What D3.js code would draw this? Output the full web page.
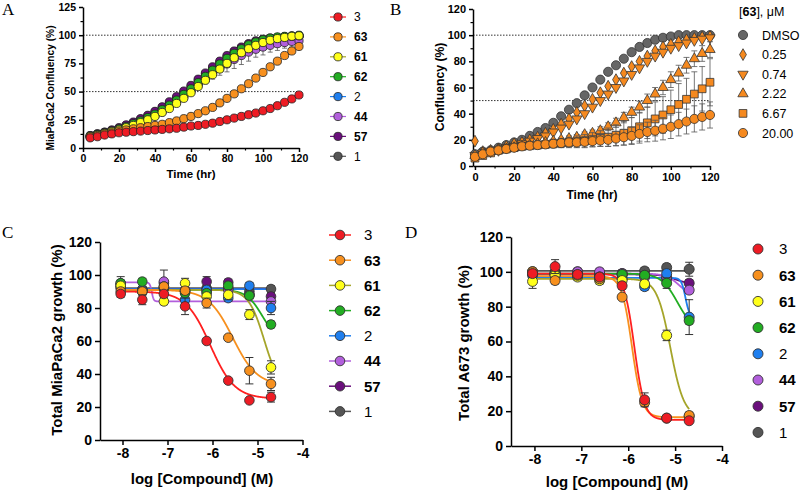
<!DOCTYPE html>
<html><head><meta charset="utf-8">
<script src="https://cdn.jsdelivr.net/npm/d3@7"></script>
<style>body{margin:0;background:#fff} text{font-family:"Liberation Sans",Arial,sans-serif}</style>
</head><body><svg id="c" width="800" height="496"></svg>
<script>
// ---------- Panel A data ----------
const aTime = [4,8,12,16,20,24,28,32,36,40,44,48,52,56,60,64,68,72,76,80,84,88,92,96,100,104,108,112,116,120];
const a3  = [9,10,11.5,12.5,13.5,14,14.5,15,15.5,16,16.5,17,17.5,18.5,19.5,20,21,22,23.5,25,26.5,28,29.5,31,33,35,37.5,40.5,43.5,47];
const a63 = [10,11,12.5,13.5,15,16,17,18,19,20,21,22.5,24,26,28,30.5,33,36,40,44,48,52.5,57,62,67,72,77,82,86,90];
const a61 = [10,11.5,13,14.5,16,18,20,22.5,25,28,31.5,35,39.5,44,49,54.5,60,65,70,75,80,84.5,88,91,93.5,95.5,97,98,99,99.5];
const a62 = [10.5,12,13.5,15,17,19,21.5,24,27,30,34,38,42.5,47.5,52.5,58,63.5,69,74.5,79.5,84,88,91.5,94,96,97.5,98.5,99,99.5,100];
const a2  = [10,11.5,13,14.5,16,18,20.5,23,25.5,28.5,32,36,40.5,45,50,55.5,61,66.5,71.5,76.5,81,85,88.5,91.5,94,96,97.5,98.5,99,99.5];
const a44 = [10,11.5,13,15,16.5,18.5,21,23.5,26.5,29.5,33,37,41,46,51,56,61,66,70.5,74.5,78.5,82,85,87.5,89.5,91,92.5,93.5,94.5,95];
const a57 = [11,12.5,14,16,18,20.5,23,26,29,32.5,36.5,41,45.5,50.5,55.5,61,66.5,72,77,82,86,89.5,92.5,95,96.5,97.5,98,98.5,99,99];
const a1  = [11,12.5,14,15.5,17.5,20,22.5,25.5,28.5,32,36,40,44.5,49.5,54.5,60,65.5,71,76,81,85.5,89,92,94.5,96,97,98,98.5,99,99];
const a44err = [0.5,0.5,0.5,0.5,0.5,0.5,0.5,0.5,0.5,1,1,1,1,1.5,2,3,4,5,6,7,8,8,8,7,7,6,6,5,5,4];
const aTicksY = [0,25,50,75,100,125];
const aTicksX = [0,20,40,60,80,100,120];

// ---------- Panel B data ----------
const bTime = [0,4,8,12,16,20,24,28,32,36,40,44,48,52,56,60,64,68,72,76,80,84,88,92,96,100,104,108,112,116,120];
const bDMSO = [9,11,12,14,16,18,20,23,26,29,33,38,43,48,54,60,66,72,77,82,87,91,94,96.5,98,99,100,100,100,100,100];
const b025  = [19,11,12,13,15,17,18,20,22,25,28,32,36,41,46,51,56,61,66,71,76,80,84,88,91,93,95,96.5,97.5,98.5,99];
const b074  = [8,10,11,12,14,15,17,19,21,23,26,29,32,36,40,45,50,55,60,65,70,75,80,84,87,90,92,94,96,97,98];
const b222  = [8,10,11,12,13,14,15,16,17,18,19,20,21,22,24,25,27,30,33,37,41,45,50,55,60,66,71,77,82,86,89];
const b667  = [6,8,10,12,13,14,15,15.5,16,16.5,17,17.5,18,18.5,19,20,21,22,23.5,25,27,30,33,36,39,43,47,51,55,59,64];
const b20   = [7,9,11,12,13,14,15,15.5,16,16.5,17,17.5,18,18,18.5,19,19.5,20,21,22,23,24.5,26,27,28.5,30,32,34,36,37.5,39];
const b222err = [1,1,1,1,1,1,1,1,1,1,1.5,1.5,2,2,2,2.5,3,3,3.5,4,4,4.5,5,5,5.5,6,6,6,6,6,6];
const b667err = [2,2,2,2,2,2,2.5,2.5,3,3,3,3.5,4,4.5,5,5.5,6,7,8,9,10,11,12,13,14,15,16,16,17,17,18];
const b20err  = [2,2,2,2,2,2,2,2.5,2.5,3,3,3,3.5,3.5,4,4,4.5,5,5.5,6,6.5,7,7.5,8,8.5,9,9,9.5,10,10,10];
const bLabels = ["DMSO","0.25","0.74","2.22","6.67","20.00"];
const bTicksY = [0,20,40,60,80,100,120];
const bTicksX = [0,20,40,60,80,100,120];

// ---------- Panels C & D data ----------
const logConc = [-8.04,-7.56,-7.08,-6.61,-6.13,-5.65,-5.18,-4.70];
const cVals = {
  "3":  [88.5,85,88.5,81,60,36,24,26],
  "63": [90,90,93,90.5,83,62,42,34],
  "61": [93.5,90,84,95,87,88,76,44],
  "62": [95,96,92,89,89,93.5,87.5,70],
  "2":  [95,91,93,85,91,86,93.5,80],
  "44": [94,90,96,91,90,91,88,84],
  "57": [93,91,95,90,96,95.5,88,87],
  "1":  [92,91,92,90,92,92,90,91.5]
};
const cErr = {
  "3":  [2,3,2,5,1,1,1,3],
  "63": [2,2,2,2,3,1,8,4],
  "61": [2,2,2,3,2,3,3,4],
  "62": [2,2,2,2,2,2,2,2],
  "2":  [4,2,2,2,2,2,2,4],
  "44": [2,2,7,2,2,2,2,2],
  "57": [2,2,2,2,3,2,2,2],
  "1":  [2,2,2,2,2,2,2,2]
};
// fit parameters: [top, bottom, logIC50, hill]
const cFit = {
  "3":  [90,25,-6.05,1.6],
  "63": [91,33,-5.55,1.6],
  "61": [91,30,-4.85,2.5],
  "62": [91,60,-4.9,2.5],
  "2":  [91.5,91.5,-5,1],
  "44": [95.5,84,-7.35,20],
  "57": [91.5,91.5,-5,1],
  "1":  [92,92,-5,1]
};
const dVals = {
  "3":  [99,103,98.5,97,92,26.5,16,14.5],
  "63": [100,95,98,96,85.5,25,16,17.5],
  "61": [94.5,98,97,95,95,93,63.5,17],
  "62": [100,99,98,97,98.5,98,93.5,72],
  "2":  [98,98,98,97,96,91.5,99,74],
  "44": [99,99,100,100,99,97,97,89.5],
  "57": [99,99,99,98,98,98,96,93.5],
  "1":  [100,100,100,99,99,100.5,102.5,101.5]
};
const dErr = {
  "3":  [2,4,2,2,2,4,1,1],
  "63": [2,2,2,2,1,2,1,2],
  "61": [4,2,2,2,2,2,3,2],
  "62": [2,2,2,2,2,2,3,2],
  "2":  [2,2,2,2,2,2,2,10],
  "44": [2,2,2,2,2,2,2,2],
  "57": [2,2,2,2,2,2,2,2],
  "1":  [2,2,2,2,2,2,2,4]
};
const dFit = {
  "3":  [99,15,-5.87,4],
  "63": [97.5,16.5,-5.92,4],
  "61": [96,16.5,-5.1,3],
  "62": [99,66,-4.95,2.5],
  "2":  [96.5,74,-4.78,10],
  "44": [99,85,-4.9,3],
  "57": [98.5,93,-5.0,3],
  "1":  [100.5,100.5,-5,1]
};
const cdTicksY = [0,20,40,60,80,100,120];
const cdTicksX = [-8,-7,-6,-5,-4];

// compounds (legend order)
const compounds = ["3","63","61","62","2","44","57","1"];
const compBold  = [false,true,true,true,false,true,true,false];
const compColor = ["#ee1c24","#f7901e","#ffff1a","#22ad22","#1f7fef","#b25fdc","#6a0f7c","#555555"];
const compLine  = ["#ff2020","#f7901e","#a5a52a","#22ad22","#1f7fef","#b25fdc","#6a0f7c","#555555"];
const aSeries = [a3,a63,a61,a62,a2,a44,a57,a1];

const svg = d3.select("#c");

function styleAxis(g, fs) {
  g.select(".domain").attr("stroke","#000").attr("stroke-width",1.5);
  g.selectAll(".tick line").attr("stroke","#000").attr("stroke-width",1.5);
  g.selectAll("text").attr("font-size",fs).attr("font-weight","bold").attr("fill","#000");
}
function minor(g, axis) {
  g.call(axis);
  g.select(".domain").remove();
  g.selectAll("text").remove();
  g.selectAll(".tick line").attr("stroke","#000").attr("stroke-width",1.2);
}
const fmt = d => String(d);

// ================= Panel A =================
{
  const x = d3.scaleLinear().domain([0,120]).range([83,299]);
  const y = d3.scaleLinear().domain([0,125]).range([148,7]);
  [50,100].forEach(v => svg.append("line").attr("x1",x(0)).attr("x2",x(120)).attr("y1",y(v)).attr("y2",y(v))
    .attr("stroke","#333").attr("stroke-width",1).attr("stroke-dasharray","1.5,1.5"));
  minor(svg.append("g").attr("transform",`translate(0,${y(0)})`),
    d3.axisBottom(x).tickValues([10,30,50,70,90,110]).tickSize(2.5).tickSizeOuter(0));
  minor(svg.append("g").attr("transform",`translate(${x(0)},0)`),
    d3.axisLeft(y).tickValues([12.5,37.5,62.5,87.5,112.5]).tickSize(2.5).tickSizeOuter(0));
  const gx = svg.append("g").attr("transform",`translate(0,${y(0)})`)
    .call(d3.axisBottom(x).tickValues(aTicksX).tickSize(4).tickSizeOuter(0).tickFormat(fmt));
  styleAxis(gx,10.5);
  const gy = svg.append("g").attr("transform",`translate(${x(0)},0)`)
    .call(d3.axisLeft(y).tickValues(aTicksY).tickSize(4).tickSizeOuter(0).tickFormat(fmt));
  styleAxis(gy,10.5);
  svg.append("text").attr("x",191).attr("y",178).attr("text-anchor","middle")
    .attr("font-size",11.5).attr("font-weight","bold").text("Time (hr)");
  svg.append("text").attr("transform","translate(54,88) rotate(-90)").attr("text-anchor","middle")
    .attr("font-size",10.2).attr("font-weight","bold").text("MiaPaCa2 Confluency (%)");
  for (let k = compounds.length-1; k >= 0; k--) {
    const vals = aSeries[k];
    const g = svg.append("g");
    if (compounds[k] === "44") {
      aTime.forEach((t,i) => {
        const e = a44err[i];
        g.append("line").attr("x1",x(t)).attr("x2",x(t)).attr("y1",y(vals[i])).attr("y2",y(vals[i]-e)).attr("stroke","#555").attr("stroke-width",0.8);
        g.append("line").attr("x1",x(t)-2.5).attr("x2",x(t)+2.5).attr("y1",y(vals[i]-e)).attr("y2",y(vals[i]-e)).attr("stroke","#555").attr("stroke-width",0.8);
      });
    }
    g.selectAll("circle").data(aTime).join("circle")
      .attr("cx",t=>x(t)).attr("cy",(t,i)=>y(vals[i])).attr("r",4.1)
      .attr("fill",compColor[k]).attr("stroke","#222").attr("stroke-width",0.8);
  }
  compounds.forEach((c,i) => {
    const yy = 17 + 19.9*i;
    svg.append("line").attr("x1",330).attr("x2",346).attr("y1",yy).attr("y2",yy).attr("stroke",compLine[i]).attr("stroke-width",1.2);
    svg.append("circle").attr("cx",338).attr("cy",yy).attr("r",4.1).attr("fill",compColor[i]).attr("stroke","#222").attr("stroke-width",0.8);
    svg.append("text").attr("x",354).attr("y",yy+4.3).attr("font-size",12)
      .attr("font-weight",compBold[i]?"bold":"normal").text(c);
  });
}

// ================= Panel B =================
{
  const x = d3.scaleLinear().domain([-1,120]).range([473,710]);
  const y = d3.scaleLinear().domain([0,120]).range([166,9]);
  [50,100].forEach(v => svg.append("line").attr("x1",x(-1)).attr("x2",x(120)).attr("y1",y(v)).attr("y2",y(v))
    .attr("stroke","#333").attr("stroke-width",1).attr("stroke-dasharray","1.5,1.5"));
  minor(svg.append("g").attr("transform",`translate(0,${y(0)})`),
    d3.axisBottom(x).tickValues([10,30,50,70,90,110]).tickSize(2.5).tickSizeOuter(0));
  minor(svg.append("g").attr("transform",`translate(${x(-1)},0)`),
    d3.axisLeft(y).tickValues([10,30,50,70,90,110]).tickSize(2.5).tickSizeOuter(0));
  const gx = svg.append("g").attr("transform",`translate(0,${y(0)})`)
    .call(d3.axisBottom(x).tickValues(bTicksX).tickSize(4).tickSizeOuter(0).tickFormat(fmt));
  styleAxis(gx,11);
  const gy = svg.append("g").attr("transform",`translate(${x(-1)},0)`)
    .call(d3.axisLeft(y).tickValues(bTicksY).tickSize(4).tickSizeOuter(0).tickFormat(fmt));
  styleAxis(gy,11);
  svg.append("text").attr("x",592).attr("y",199).attr("text-anchor","middle")
    .attr("font-size",12).attr("font-weight","bold").text("Time (hr)");
  svg.append("text").attr("transform","translate(444,87) rotate(-90)").attr("text-anchor","middle")
    .attr("font-size",12.2).attr("font-weight","bold").text("Confluency (%)");

  const series = [bDMSO,b025,b074,b222,b667,b20];
  const errs = [null,null,null,b222err,b667err,b20err];
  const fills = ["#666666","#f5891f","#f5891f","#f5891f","#f5891f","#f5891f"];
  const shapes = [
    {t:d3.symbolCircle,s:66,r:0},{t:d3.symbolDiamond,s:40,r:0},{t:d3.symbolTriangle,s:46,r:180},
    {t:d3.symbolTriangle,s:46,r:0},{t:d3.symbolSquare,s:60,r:0},{t:d3.symbolCircle,s:66,r:0}];
  series.forEach((vals,k) => {
    const g = svg.append("g");
    if (errs[k]) {
      bTime.forEach((t,i) => {
        const e = errs[k][i];
        g.append("line").attr("x1",x(t)).attr("x2",x(t)).attr("y1",y(vals[i]-e)).attr("y2",y(vals[i]+e)).attr("stroke","#555").attr("stroke-width",0.8);
        [vals[i]-e, vals[i]+e].forEach(v => g.append("line").attr("x1",x(t)-3).attr("x2",x(t)+3).attr("y1",y(v)).attr("y2",y(v)).attr("stroke","#555").attr("stroke-width",0.8));
      });
    }
    const sym = d3.symbol().type(shapes[k].t).size(shapes[k].s);
    g.selectAll("path.m").data(bTime).join("path").attr("class","m")
      .attr("d",sym).attr("transform",(t,i)=>`translate(${x(t)},${y(vals[i])}) rotate(${shapes[k].r})`)
      .attr("fill",fills[k]).attr("stroke","#333").attr("stroke-width",0.8);
  });
  const tt = svg.append("text").attr("x",739).attr("y",16).attr("font-size",12.5);
  tt.append("tspan").text("[");
  tt.append("tspan").attr("font-weight","bold").text("63");
  tt.append("tspan").text("], μM");
  bLabels.forEach((l,i) => {
    const yy = 35 + 19.6*i;
    const sym = d3.symbol().type(shapes[i].t).size(shapes[i].s);
    svg.append("path").attr("d",sym).attr("transform",`translate(743,${yy}) rotate(${shapes[i].r})`)
      .attr("fill",fills[i]).attr("stroke","#333").attr("stroke-width",0.8);
    svg.append("text").attr("x",762).attr("y",yy+4.5).attr("font-size",12.5).text(l);
  });
}

// ================= Panels C & D =================
function dosePanel(o) {
  const x = d3.scaleLinear().domain([-8.5,-4]).range(o.xr);
  const y = d3.scaleLinear().domain([0,120]).range(o.yr);
  const gx = svg.append("g").attr("transform",`translate(0,${y(0)})`)
    .call(d3.axisBottom(x).tickValues(cdTicksX).tickSize(5).tickSizeOuter(0).tickFormat(fmt));
  styleAxis(gx,14);
  const gy = svg.append("g").attr("transform",`translate(${x(-8.5)},0)`)
    .call(d3.axisLeft(y).tickValues(cdTicksY).tickSize(5).tickSizeOuter(0).tickFormat(fmt));
  styleAxis(gy,14);
  svg.append("text").attr("x",o.xt[0]).attr("y",o.xt[1]).attr("text-anchor","middle")
    .attr("font-size",15).attr("font-weight","bold").text("log [Compound] (M)");
  svg.append("text").attr("transform",`translate(${o.yt[0]},${o.yt[1]}) rotate(-90)`).attr("text-anchor","middle")
    .attr("font-size",15).attr("font-weight","bold").text(o.ytitle);
  const line = d3.line().x(d=>x(d[0])).y(d=>y(d[1]));
  const xs = d3.range(logConc[0], logConc[7]+0.0001, 0.005);
  for (let k = compounds.length-1; k >= 0; k--) {
    const p = o.fit[compounds[k]];
    const pts = xs.map(v => [v, p[1] + (p[0]-p[1])/(1+Math.pow(10,p[3]*(v-p[2])))]);
    svg.append("path").attr("d",line(pts)).attr("fill","none").attr("stroke",compLine[k]).attr("stroke-width",1.8);
  }
  for (let k = compounds.length-1; k >= 0; k--) {
    const c = compounds[k];
    const vals = o.vals[c], errs = o.err[c];
    const g = svg.append("g");
    logConc.forEach((lc,i) => {
      const e = errs[i];
      g.append("line").attr("x1",x(lc)).attr("x2",x(lc)).attr("y1",y(vals[i]-e)).attr("y2",y(vals[i]+e)).attr("stroke","#333").attr("stroke-width",1);
      [vals[i]-e, vals[i]+e].forEach(v => g.append("line").attr("x1",x(lc)-4).attr("x2",x(lc)+4).attr("y1",y(v)).attr("y2",y(v)).attr("stroke","#333").attr("stroke-width",1));
    });
    g.selectAll("circle").data(logConc).join("circle")
      .attr("cx",lc=>x(lc)).attr("cy",(lc,i)=>y(vals[i])).attr("r",o.r)
      .attr("fill",compColor[k]).attr("stroke","#333").attr("stroke-width",0.9);
  }
  compounds.forEach((c,i) => {
    const yy = o.lg.y0 + o.lg.dy*i;
    if (o.lg.line) svg.append("line").attr("x1",o.lg.x-11).attr("x2",o.lg.x+11).attr("y1",yy).attr("y2",yy)
      .attr("stroke",compLine[i]).attr("stroke-width",1.5);
    svg.append("circle").attr("cx",o.lg.x).attr("cy",yy).attr("r",o.r)
      .attr("fill",compColor[i]).attr("stroke","#333").attr("stroke-width",0.9);
    svg.append("text").attr("x",o.lg.tx).attr("y",yy+5.3).attr("font-size",15)
      .attr("font-weight",compBold[i]?"bold":"normal").text(c);
  });
}
dosePanel({xr:[100,302.5], yr:[440,242], xt:[202,484], yt:[62,340], ytitle:"Total MiaPaCa2 growth (%)",
  vals:cVals, err:cErr, fit:cFit, r:4.8, lg:{x:340,tx:364,y0:235,dy:25.2,line:true}});
dosePanel({xr:[511,722], yr:[446,237], xt:[617,487], yt:[469,343], ytitle:"Total A673 growth (%)",
  vals:dVals, err:dErr, fit:dFit, r:5, lg:{x:758,tx:779,y0:249,dy:26.2,line:false}});

// panel letters
[["A",2,15],["B",390,15],["C",2,238],["D",405,238]].forEach(d =>
  svg.append("text").attr("x",d[1]).attr("y",d[2])
    .style("font-family","'Liberation Serif','Times New Roman',serif")
    .attr("font-size",17).text(d[0]));
</script></body></html>
